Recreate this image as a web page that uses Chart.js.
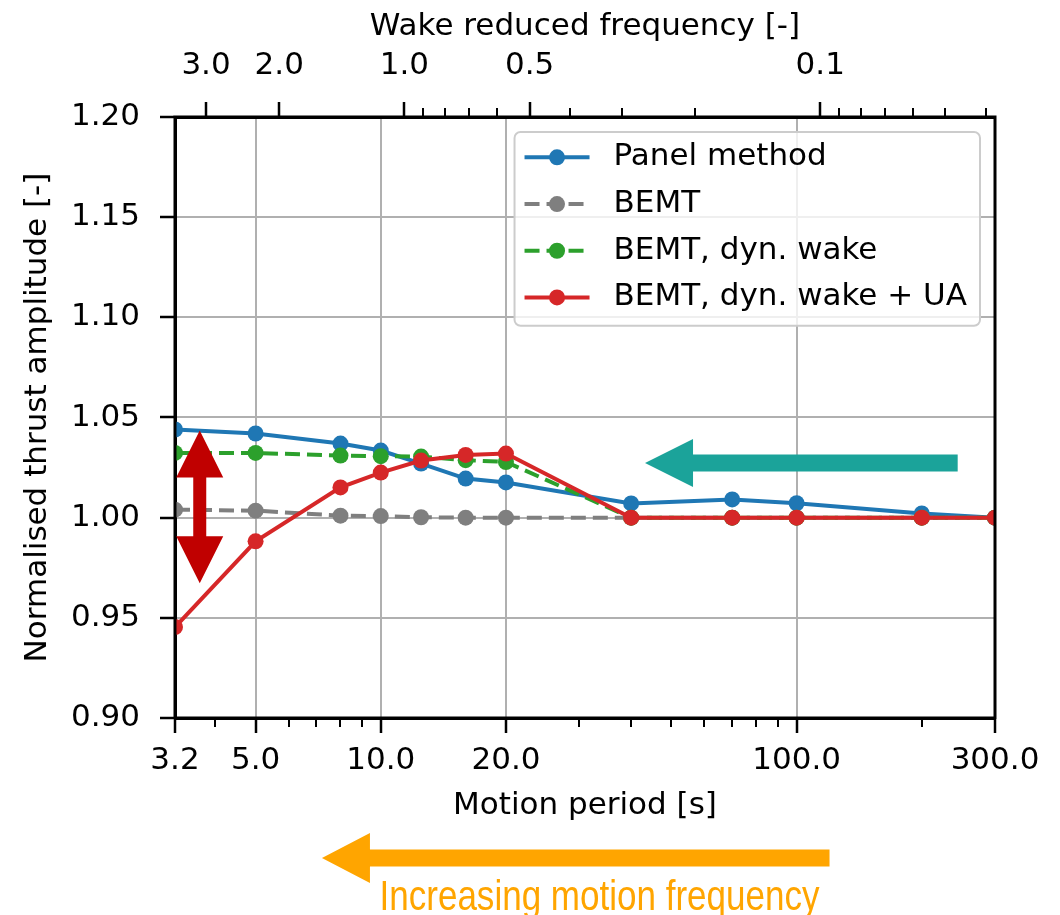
<!DOCTYPE html>
<html>
<head>
<meta charset="utf-8">
<script src="https://cdn.jsdelivr.net/npm/chart.js@4/dist/chart.umd.min.js"></script>
<style>
  html, body { margin: 0; padding: 0; background: #fff; }
</style>
</head>
<body>
<canvas id="chart" width="1060" height="915"></canvas>
<script>
// ---- data ----
const PERIODS = [3.2, 5, 8, 10, 12.5, 16, 20, 40, 70, 100, 200, 300];

const PANEL = [1.044, 1.042, 1.037, 1.0335, 1.027, 1.0195, 1.0176, 1.0071, 1.0091, 1.0072, 1.0021, 1.000];
const BEMT = [1.004, 1.0035, 1.001, 1.0008, 1.0002, 1.000, 1.000, 1.000, 1.000, 1.000, 1.000, 1.000];
const BEMT_DW = [1.0323, 1.0323, 1.031, 1.0307, 1.0305, 1.0287, 1.0278, 1.000, 1.000, 1.000, 1.000, 1.000];
const BEMT_DW_UA = [0.9454, 0.9882, 1.0151, 1.0225, 1.0285, 1.0313, 1.032, 1.000, 1.000, 1.000, 1.000, 1.000];

// axis ticks
const PERIOD_TICKS = [3.2, 5, 10, 20, 100, 300];
const PERIOD_MINOR = [4, 6, 7, 8, 9, 30, 40, 50, 60, 70, 80, 90, 200];
const WAKE_TICKS = [3.0, 2.0, 1.0, 0.5, 0.1];
const WAKE_MINOR = [0.9, 0.8, 0.7, 0.6, 0.4, 0.3, 0.2, 0.09, 0.08, 0.07, 0.06, 0.05, 0.04];
const WAKE_FACTOR = 11.4; // reduced frequency = WAKE_FACTOR / period
const Y_TICKS = [0.90, 0.95, 1.00, 1.05, 1.10, 1.15, 1.20];

// annotation anchors (data units)
const AMP_ARROW = { period: 3.67, from: 0.9673, to: 1.0435 };
const LOWFREQ_ARROW = { value: 1.0273, from: 244, to: 43.2 };
const FREQ_ARROW = { from: 120, to: 7.22 };

// ---- styling ----
const FONT = 'DejaVu Sans';
const GRID = '#b0b0b0';
Chart.defaults.font.family = FONT;
Chart.defaults.font.size = 31;
Chart.defaults.color = '#000';

function makeSeries(label, values, color, dashed, order) {
    return {
        label: label,
        data: PERIODS.map((t, i) => ({ x: t, y: values[i] })),
        borderColor: color,
        backgroundColor: color,
        pointBackgroundColor: color,
        pointBorderWidth: 0,
        pointRadius: 8,
        pointHoverRadius: 8,
        borderWidth: 4,
        borderDash: dashed ? [15, 7] : [],
        tension: 0,
        clip: 0,
        order: order
    };
}

function blockArrow(ctx, x1, y1, x2, y2, shaft, headW, headL, twoHeads, color) {
    const len = Math.hypot(x2 - x1, y2 - y1);
    const s = shaft / 2, hw = headW / 2;
    ctx.save();
    ctx.fillStyle = color;
    ctx.translate(x1, y1);
    ctx.rotate(Math.atan2(y2 - y1, x2 - x1));
    ctx.beginPath();
    if (twoHeads) {
        ctx.moveTo(0, 0);
        ctx.lineTo(headL, -hw);
        ctx.lineTo(headL, -s);
    } else {
        ctx.moveTo(0, -s);
    }
    ctx.lineTo(len - headL, -s);
    ctx.lineTo(len - headL, -hw);
    ctx.lineTo(len, 0);
    ctx.lineTo(len - headL, hw);
    ctx.lineTo(len - headL, s);
    if (twoHeads) {
        ctx.lineTo(headL, s);
        ctx.lineTo(headL, hw);
    } else {
        ctx.lineTo(0, s);
    }
    ctx.closePath();
    ctx.fill();
    ctx.restore();
}

function drawLegend(chart) {
    const { ctx, chartArea } = chart;
    const items = chart.data.datasets;
    ctx.save();
    ctx.font = '31px "' + FONT + '"';
    const textW = Math.max(...items.map(d => ctx.measureText(d.label).width));
    const rowH = 46.7, padL = 10, sampleW = 65, gap = 24, padR = 13;
    const w = padL + sampleW + gap + textW + padR;
    const h = rowH * items.length + 7;
    const x = chartArea.right - 15 - w;
    const y = chartArea.top + 15;

    ctx.beginPath();
    ctx.roundRect(x, y, w, h, 6);
    ctx.fillStyle = 'rgba(255,255,255,0.8)';
    ctx.fill();
    ctx.strokeStyle = '#cccccc';
    ctx.lineWidth = 2;
    ctx.stroke();

    items.forEach((d, i) => {
        const cy = y + 2 + rowH * (i + 0.5);
        const x0 = x + padL;
        ctx.beginPath();
        ctx.setLineDash(d.borderDash);
        ctx.strokeStyle = d.borderColor;
        ctx.lineWidth = d.borderWidth;
        ctx.moveTo(x0, cy);
        ctx.lineTo(x0 + sampleW, cy);
        ctx.stroke();
        ctx.setLineDash([]);
        ctx.beginPath();
        ctx.arc(x0 + sampleW / 2, cy, d.pointRadius, 0, Math.PI * 2);
        ctx.fillStyle = d.borderColor;
        ctx.fill();
        ctx.fillStyle = '#000';
        ctx.textBaseline = 'middle';
        ctx.textAlign = 'left';
        ctx.fillText(d.label, x0 + sampleW + gap, cy);
    });
    ctx.restore();
}

const decorPlugin = {
    id: 'decor',
    afterDatasetsDraw(chart) {
        const { ctx, chartArea: ca, scales } = chart;
        ctx.save();

        // axes frame on top of the lines
        ctx.strokeStyle = '#000';
        ctx.lineWidth = 3;
        ctx.strokeRect(ca.left, ca.top, ca.right - ca.left, ca.bottom - ca.top);

        // minor ticks
        ctx.lineWidth = 2;
        ctx.beginPath();
        PERIOD_MINOR.forEach(v => {
            const px = Math.round(scales.x.getPixelForValue(v));
            ctx.moveTo(px, ca.bottom);
            ctx.lineTo(px, ca.bottom + 9);
        });
        WAKE_MINOR.forEach(f => {
            const px = Math.round(scales.x2.getPixelForValue(WAKE_FACTOR / f));
            ctx.moveTo(px, ca.top);
            ctx.lineTo(px, ca.top - 9);
        });
        ctx.stroke();
        ctx.restore();

        drawLegend(chart);

        // annotations
        const x = scales.x, y = scales.y;
        const ax = x.getPixelForValue(AMP_ARROW.period);
        blockArrow(ctx, ax, y.getPixelForValue(AMP_ARROW.from), ax, y.getPixelForValue(AMP_ARROW.to),
            13, 47, 47, true, '#c00000');

        const ty = y.getPixelForValue(LOWFREQ_ARROW.value);
        blockArrow(ctx, x.getPixelForValue(LOWFREQ_ARROW.from), ty, x.getPixelForValue(LOWFREQ_ARROW.to), ty,
            17, 48, 48, false, '#1ba39a');

        const oy = ca.bottom + 140;
        const tail = x.getPixelForValue(FREQ_ARROW.from);
        blockArrow(ctx, tail, oy, x.getPixelForValue(FREQ_ARROW.to), oy, 17, 50, 48, false, '#ffa500');

        ctx.save();
        ctx.font = '43px "Liberation Sans Narrow", "Liberation Sans"';
        ctx.fillStyle = '#ffa500';
        ctx.textAlign = 'right';
        ctx.textBaseline = 'alphabetic';
        const label = 'Increasing motion frequency';
        const tw = ctx.measureText(label).width;
        const sx = tw > 500 ? 440 / tw : 1;
        ctx.translate(tail - 10, oy + 52);
        ctx.scale(sx, 1);
        ctx.fillText(label, 0, 0);
        ctx.restore();
    }
};

const tickGrid = { color: GRID, lineWidth: 2, tickColor: '#000', tickWidth: 2.5, tickLength: 15 };

new Chart(document.getElementById('chart'), {
    type: 'line',
    data: {
        datasets: [
            makeSeries('Panel method', PANEL, '#1f77b4', false, 4),
            makeSeries('BEMT', BEMT, '#7f7f7f', true, 3),
            makeSeries('BEMT, dyn. wake', BEMT_DW, '#2ca02c', true, 2),
            makeSeries('BEMT, dyn. wake + UA', BEMT_DW_UA, '#d62728', false, 1)
        ]
    },
    options: {
        responsive: false,
        devicePixelRatio: 1,
        animation: false,
        layout: { padding: { left: 0, right: 65, top: 0, bottom: 82 } },
        plugins: {
            legend: { display: false },
            tooltip: { enabled: false }
        },
        scales: {
            x: {
                type: 'logarithmic',
                position: 'bottom',
                min: 3.2,
                max: 300,
                afterBuildTicks: s => { s.ticks = PERIOD_TICKS.map(v => ({ value: v })); },
                afterFit: s => { s.height = 115; },
                ticks: { callback: v => Number(v).toFixed(1), padding: 9, maxRotation: 0, autoSkip: false },
                grid: tickGrid,
                border: { color: '#000', width: 3 },
                title: { display: true, text: 'Motion period [s]', padding: { top: 0, bottom: 8 } }
            },
            x2: {
                axis: 'x',
                type: 'logarithmic',
                position: 'top',
                min: 3.2,
                max: 300,
                afterBuildTicks: s => { s.ticks = WAKE_TICKS.map(f => ({ value: WAKE_FACTOR / f })); },
                afterFit: s => { s.height = 117; },
                ticks: { callback: (v, i) => WAKE_TICKS[i].toFixed(1), padding: 17, maxRotation: 0, autoSkip: false },
                grid: { ...tickGrid, drawOnChartArea: false },
                border: { color: '#000', width: 3 },
                title: { display: true, text: 'Wake reduced frequency [-]', padding: { top: 8, bottom: 0 } }
            },
            y: {
                min: 0.9,
                max: 1.2,
                afterBuildTicks: s => { s.ticks = Y_TICKS.map(v => ({ value: v })); },
                afterFit: s => { s.width = 175; },
                ticks: { callback: v => Number(v).toFixed(2), padding: 20 },
                grid: tickGrid,
                border: { color: '#000', width: 3 },
                title: { display: true, text: 'Normalised thrust amplitude [-]', padding: { top: 19, bottom: 0 } }
            }
        }
    },
    plugins: [decorPlugin]
});
</script>
</body>
</html>
